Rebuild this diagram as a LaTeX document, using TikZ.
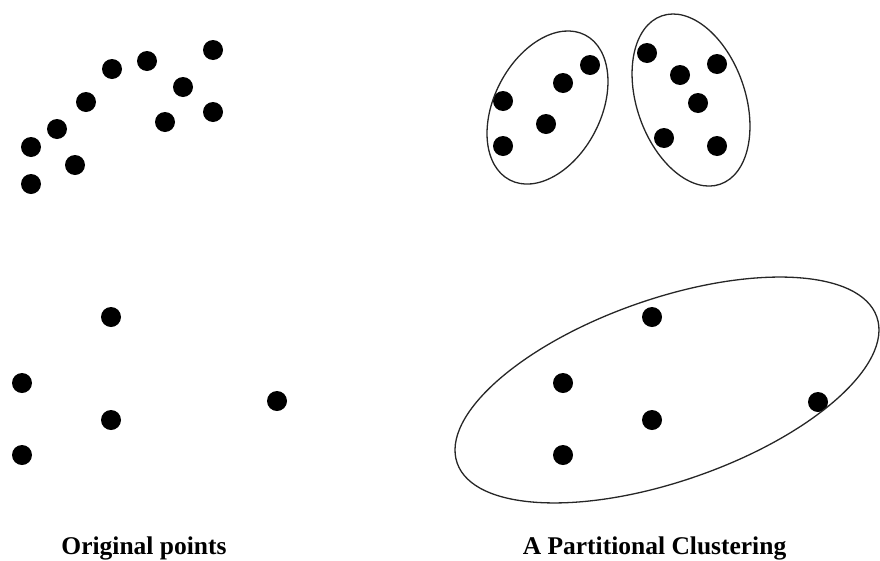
\documentclass[tikz,border=0pt]{standalone}
\usepackage{fontspec}
\setmainfont{Liberation Serif}
\begin{document}
\begin{tikzpicture}[x=1pt,y=-1pt,
  pt/.style={circle,fill=black,inner sep=0pt,minimum size=20pt},
  clus/.style={draw=black!85,line width=1.3pt},
  lbl/.style={anchor=base,font=\bfseries\fontsize{25.5}{30}\selectfont,inner sep=0pt}]
\useasboundingbox (0,0) rectangle (880,560);
% original points, top group
\foreach \n/\x/\y in {a1/213/50,a2/147/61,a3/112/69,a4/183/87,a5/86/102,a6/213/112,a7/165/122,a8/57/129,a9/31/147,a10/75/165,a11/31/184}
  \node[pt] (\n) at (\x,\y) {};
% original points, bottom group
\foreach \n/\x/\y in {b1/111/317,b2/22/383,b3/277/401,b4/111/420,b5/22/455}
  \node[pt] (\n) at (\x,\y) {};
% clustered points
\foreach \n/\x/\y in {c1/590/65,c2/563/83,c3/503/101,c4/546/124,c5/503/146}
  \node[pt] (\n) at (\x,\y) {};
\foreach \n/\x/\y in {d1/647/53,d2/680/75,d3/717/64,d4/698/103,d5/664/138,d6/717/146}
  \node[pt] (\n) at (\x,\y) {};
\foreach \n/\x/\y in {e1/652/317,e2/563/383,e3/818/402,e4/652/420,e5/563/455}
  \node[pt] (\n) at (\x,\y) {};
% cluster ellipses
\coordinate (cA) at (547.5,107.5);
\coordinate (cB) at (691,100);
\coordinate (cC) at (667,390);
\draw[clus,rotate around={62.5:(cA)}] (cA) ellipse [x radius=81.7pt, y radius=53.3pt];
\draw[clus,rotate around={109.15:(cB)}] (cB) ellipse [x radius=89.1pt, y radius=54.2pt];
\draw[clus,rotate around={19.2:(cC)}] (cC) ellipse [x radius=222.2pt, y radius=91.2pt];
% labels
\node[lbl] (l1) at (144,554) {Original points};
\node[lbl] (l2) at (654.5,554) {A Partitional Clustering};
\end{tikzpicture}
\end{document}
